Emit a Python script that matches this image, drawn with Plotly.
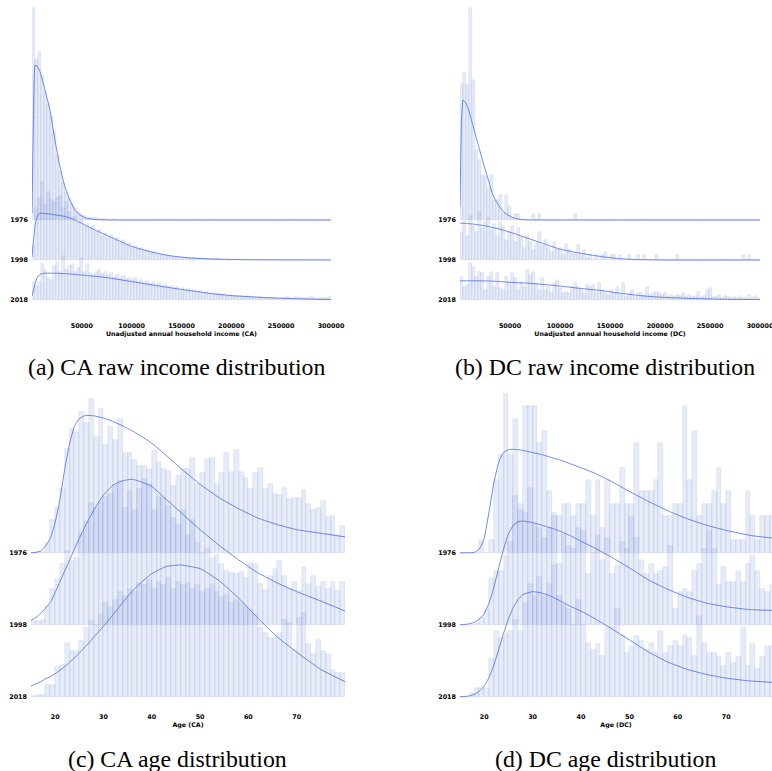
import plotly.graph_objects as go

W, H = 772, 771
YEARS = ["1976", "1998", "2018"]          # top row to bottom row
ROW_BASE = [2, 1, 0]                       # baseline of each row (row spacing = 1)

# ---------------- income histograms (bin width 3000, 0..300000) ----------------
# heights are in hundredths of one row spacing
INC_BIN = 3000
CA_INC_1976 = [530, 400, 420, 360, 320, 290, 260, 220, 160, 120,
               92, 70, 52, 40, 29, 21, 15, 11, 8, 6,
               5, 4, 3, 3, 2, 2, 1, 2, 1, 1,
               0, 1, 0, 1, 0, 0, 0, 0, 0, 0] + [0] * 60
CA_INC_1998 = [35, 130, 155, 195, 140, 170, 150, 145, 155, 160,
               130, 145, 120, 105, 110, 95, 100, 85, 90, 80,
               85, 70, 75, 60, 68, 55, 62, 50, 56, 42,
               50, 38, 42, 30, 35, 28, 30, 22, 25, 18,
               20, 15, 16, 12, 13, 10, 10, 8, 8, 6,
               6, 5, 5, 4, 4, 3, 4, 3, 3, 2,
               3, 2, 2, 2, 1, 2, 1, 1, 2, 1,
               1, 1, 0, 1, 1, 0, 1, 0, 1, 0,
               1, 0, 0, 1, 0, 1, 0, 0, 1, 0,
               0, 1, 0, 0, 1, 0, 0, 1, 0, 1]
CA_INC_2018 = [45, 35, 45, 90, 75, 55, 50, 85, 95, 70,
               110, 75, 85, 90, 70, 80, 105, 70, 90, 68,
               62, 70, 75, 65, 70, 62, 68, 58, 62, 55,
               60, 52, 56, 50, 55, 45, 50, 42, 48, 40,
               45, 38, 42, 35, 38, 32, 35, 30, 32, 26,
               30, 24, 27, 22, 25, 20, 22, 18, 20, 16,
               18, 14, 16, 12, 14, 11, 12, 10, 11, 9,
               10, 8, 9, 7, 8, 6, 7, 5, 6, 5,
               4, 5, 3, 6, 4, 7, 5, 4, 8, 4,
               6, 5, 4, 8, 5, 3, 6, 5, 4, 7]
DC_INC_1976 = [340, 367, 338, 530, 350, 176, 150, 113, 110, 80,
               113, 50, 50, 63, 18, 63, 34, 5, 15, 15,
               0, 0, 0, 0, 15, 0, 15, 0, 0, 0,
               0, 0, 0, 0, 0, 0, 0, 0, 15, 0] + [0] * 60
DC_INC_1998 = [70, 95, 60, 110, 85, 70, 120, 80, 95, 105,
               75, 90, 60, 95, 80, 50, 70, 85, 45, 80,
               55, 30, 60, 45, 25, 40, 70, 35, 50, 30,
               20, 45, 25, 30, 12, 40, 25, 15, 12, 38,
               12, 25, 5, 12, 0, 12, 0, 12, 20, 0,
               12, 12, 0, 12, 0, 0, 12, 0, 0, 12,
               0, 12, 0, 0, 0, 12, 0, 0, 0, 0,
               0, 0, 12, 0, 0, 0, 0, 0, 0, 0,
               0, 0, 0, 0, 0, 0, 0, 0, 0, 0,
               0, 0, 0, 0, 12, 0, 12, 0, 0, 0]
DC_INC_2018 = [58, 33, 38, 92, 83, 58, 71, 67, 25, 58,
               71, 33, 67, 29, 25, 58, 46, 67, 54, 25,
               46, 33, 75, 63, 71, 42, 25, 54, 25, 33,
               17, 42, 50, 29, 17, 21, 17, 33, 42, 33,
               25, 17, 38, 33, 38, 17, 42, 25, 17, 13,
               25, 17, 33, 13, 42, 8, 17, 25, 8, 17,
               17, 13, 33, 13, 17, 21, 17, 13, 17, 8,
               13, 8, 13, 10, 17, 8, 13, 8, 10, 21,
               7, 10, 25, 29, 7, 8, 13, 4, 10, 7,
               4, 8, 5, 10, 6, 4, 12, 6, 9, 5]

# fitted income curves, sampled on a common grid
INC_CURVE_X = [0, 1500, 3000, 5000, 8000, 13000, 18000, 23000, 28000, 33000,
               38000, 43000, 48000, 55000, 65000, 80000, 100000, 120000, 140000,
               160000, 180000, 200000, 230000, 260000, 300000]
CA_INC_CURVE_1976 = [0.17, 2.6, 3.87, 3.85, 3.71, 3.25, 2.75, 2.0, 1.33, 0.83,
                     0.5, 0.25, 0.125, 0.04, 0.01, 0, 0, 0, 0, 0, 0, 0, 0, 0, 0]
CA_INC_CURVE_1998 = [0.08, 0.5, 0.85, 1.08, 1.17, 1.16, 1.15, 1.13, 1.11, 1.09,
                     1.05, 1.0, 0.94, 0.85, 0.73, 0.56, 0.34, 0.2, 0.1, 0.05,
                     0.025, 0.012, 0.005, 0.002, 0]
CA_INC_CURVE_2018 = [0.1, 0.25, 0.4, 0.55, 0.64, 0.67, 0.67, 0.67, 0.665, 0.66,
                     0.65, 0.64, 0.63, 0.61, 0.59, 0.54, 0.46, 0.38, 0.3, 0.23,
                     0.16, 0.11, 0.065, 0.035, 0.01]
DC_INC_CURVE_1976 = [0.34, 2.5, 3.0, 2.95, 2.8, 2.36, 1.9, 1.45, 1.03, 0.62,
                     0.39, 0.22, 0.12, 0.04, 0.005, 0, 0, 0, 0, 0, 0, 0, 0, 0, 0]
DC_INC_CURVE_1998 = [0.92, 0.92, 0.92, 0.915, 0.91, 0.9, 0.88, 0.865, 0.84, 0.81,
                     0.785, 0.75, 0.71, 0.655, 0.565, 0.44, 0.27, 0.17, 0.09, 0.03,
                     0.01, 0, 0, 0, 0]
DC_INC_CURVE_2018 = [0.48, 0.48, 0.48, 0.48, 0.48, 0.48, 0.48, 0.478, 0.475, 0.47,
                     0.465, 0.455, 0.445, 0.435, 0.425, 0.395, 0.35, 0.29, 0.24, 0.17,
                     0.11, 0.07, 0.04, 0.02, 0.01]

# ---------------- age histograms (one bar per year of age, 15..79) ----------------
AGE_START, AGE_BIN = 15, 1
CA_AGE_1976 = [0, 1, 1, 14, 45, 62, 90, 144, 172, 167,
               196, 180, 213, 160, 199, 149, 174, 156, 185, 138,
               138, 129, 120, 120, 116, 141, 126, 116, 113, 93,
               107, 116, 116, 131, 96, 111, 130, 131, 96, 111,
               138, 112, 143, 112, 104, 88, 110, 117, 88, 95,
               82, 80, 90, 75, 76, 76, 87, 67, 60, 62,
               72, 50, 51, 25, 37]
CA_AGE_1998 = [5, 5, 7, 26, 50, 64, 84, 102, 89, 93,
               128, 142, 169, 162, 169, 178, 181, 194, 199, 162,
               185, 160, 188, 202, 195, 160, 177, 176, 165, 148,
               139, 160, 125, 145, 114, 100, 105, 93, 97, 84,
               75, 72, 70, 73, 65, 86, 85, 57, 48, 68,
               77, 88, 68, 50, 60, 47, 80, 57, 68, 53,
               60, 50, 60, 47, 60]
CA_AGE_2018 = [1, 3, 3, 17, 17, 41, 44, 75, 63, 63,
               78, 96, 105, 100, 115, 130, 125, 135, 145, 140,
               150, 145, 158, 155, 162, 150, 160, 155, 165, 150,
               160, 155, 158, 150, 155, 145, 150, 155, 145, 138,
               142, 130, 135, 130, 125, 120, 115, 95, 88, 82,
               82, 88, 106, 102, 65, 110, 116, 74, 59, 79,
               63, 59, 37, 33, 33]
DC_AGE_1976 = [0, 0, 0, 0, 17, 0, 17, 101, 135, 220,
               135, 186, 68, 203, 203, 203, 152, 169, 85, 51,
               51, 68, 68, 51, 68, 68, 101, 51, 101, 34,
               101, 68, 68, 118, 68, 68, 152, 85, 85, 85,
               101, 152, 51, 51, 68, 68, 203, 101, 169, 51,
               68, 68, 85, 118, 68, 85, 17, 17, 17, 85,
               51, 17, 51, 51, 51]
DC_AGE_1998 = [0, 0, 0, 3, 10, 21, 63, 75, 75, 95,
               115, 179, 160, 155, 190, 140, 135, 120, 135, 155,
               85, 125, 110, 105, 135, 130, 70, 100, 125, 90,
               120, 70, 82, 115, 105, 150, 120, 90, 70, 85,
               70, 75, 80, 110, 22, 45, 50, 45, 75, 85,
               105, 130, 105, 55, 80, 60, 60, 75, 60, 85,
               95, 75, 50, 45, 55]
DC_AGE_2018 = [0, 0, 5, 12, 12, 12, 52, 91, 82, 87,
               91, 107, 92, 130, 157, 140, 166, 140, 157, 183,
               140, 127, 122, 100, 135, 100, 75, 65, 73, 57,
               97, 97, 122, 86, 61, 69, 85, 78, 65, 75,
               61, 91, 61, 70, 78, 70, 86, 82, 57, 112,
               75, 61, 61, 56, 43, 61, 47, 56, 96, 43,
               73, 39, 56, 70, 70]

AGE_CURVE_X = [15, 16, 17, 18, 19, 20, 21, 22, 23, 24, 25, 26, 27, 28, 30,
               32, 34, 36, 38, 40, 43, 46, 50, 54, 58, 62, 66, 70, 75, 80]
CA_AGE_CURVE_1976 = [0.0, 0.005, 0.025, 0.09, 0.2, 0.42, 0.74, 1.17, 1.52, 1.76,
                     1.86, 1.9, 1.905, 1.9, 1.87, 1.82, 1.76, 1.69, 1.61, 1.52,
                     1.35, 1.17, 0.95, 0.76, 0.61, 0.48, 0.39, 0.32, 0.27, 0.22]
CA_AGE_CURVE_1998 = [0.06, 0.1, 0.16, 0.23, 0.31, 0.45, 0.6, 0.75, 0.9, 1.05,
                     1.2, 1.34, 1.47, 1.59, 1.8, 1.94, 2.0, 2.02, 1.98, 1.92,
                     1.74, 1.56, 1.32, 1.1, 0.9, 0.72, 0.58, 0.46, 0.33, 0.19]
CA_AGE_CURVE_2018 = [0.15, 0.18, 0.21, 0.25, 0.28, 0.32, 0.37, 0.42, 0.48, 0.54,
                     0.61, 0.68, 0.75, 0.83, 0.98, 1.14, 1.31, 1.47, 1.6, 1.71,
                     1.81, 1.83, 1.78, 1.61, 1.37, 1.09, 0.83, 0.62, 0.38, 0.21]
DC_AGE_CURVE_1976 = [0.0, 0.0, 0.0, 0.005, 0.05, 0.2, 0.57, 0.97, 1.26, 1.39,
                     1.43, 1.435, 1.43, 1.42, 1.39, 1.36, 1.32, 1.28, 1.23, 1.18,
                     1.1, 1.0, 0.85, 0.71, 0.58, 0.47, 0.38, 0.31, 0.24, 0.2]
DC_AGE_CURVE_1998 = [0.0, 0.005, 0.015, 0.035, 0.08, 0.15, 0.3, 0.52, 0.79, 1.05,
                     1.26, 1.38, 1.43, 1.44, 1.42, 1.38, 1.34, 1.29, 1.23, 1.16,
                     1.06, 0.95, 0.79, 0.62, 0.49, 0.38, 0.3, 0.25, 0.21, 0.2]
DC_AGE_CURVE_2018 = [0.0, 0.005, 0.015, 0.035, 0.08, 0.15, 0.27, 0.44, 0.66, 0.88,
                     1.08, 1.24, 1.35, 1.42, 1.46, 1.44, 1.39, 1.32, 1.25, 1.19,
                     1.08, 0.96, 0.79, 0.62, 0.48, 0.38, 0.31, 0.26, 0.22, 0.2]

INC_TICKS = [50000, 100000, 150000, 200000, 250000, 300000]
AGE_TICKS = [20, 30, 40, 50, 60, 70]

PANELS = [
    dict(hists=[CA_INC_1976, CA_INC_1998, CA_INC_2018],
         curves=[CA_INC_CURVE_1976, CA_INC_CURVE_1998, CA_INC_CURVE_2018],
         start=0, binw=INC_BIN, cx=INC_CURVE_X, ticks=INC_TICKS,
         xtitle="Unadjusted annual household income (CA)",
         caption="(a) CA raw income distribution"),
    dict(hists=[DC_INC_1976, DC_INC_1998, DC_INC_2018],
         curves=[DC_INC_CURVE_1976, DC_INC_CURVE_1998, DC_INC_CURVE_2018],
         start=0, binw=INC_BIN, cx=INC_CURVE_X, ticks=INC_TICKS,
         xtitle="Unadjusted annual household income (DC)",
         caption="(b) DC raw income distribution"),
    dict(hists=[CA_AGE_1976, CA_AGE_1998, CA_AGE_2018],
         curves=[CA_AGE_CURVE_1976, CA_AGE_CURVE_1998, CA_AGE_CURVE_2018],
         start=AGE_START, binw=AGE_BIN, cx=AGE_CURVE_X, ticks=AGE_TICKS,
         xtitle="Age (CA)", caption="(c) CA age distribution"),
    dict(hists=[DC_AGE_1976, DC_AGE_1998, DC_AGE_2018],
         curves=[DC_AGE_CURVE_1976, DC_AGE_CURVE_1998, DC_AGE_CURVE_2018],
         start=AGE_START, binw=AGE_BIN, cx=AGE_CURVE_X, ticks=AGE_TICKS,
         xtitle="Age (DC)", caption="(d) DC age distribution"),
]

# pixel layout of each panel: x-pixel span, x range, y-pixel span, y range, caption centre
GEOM = [
    dict(xpx=(32, 331), xr=(0, 300000), ypx=(0, 321), yr=(-0.525, 7.5), cap=(177, 367)),
    dict(xpx=(460, 760), xr=(0, 300000), ypx=(0, 321), yr=(-0.525, 7.5), cap=(605, 367)),
    dict(xpx=(31, 345), xr=(15, 80), ypx=(387, 712), yr=(-0.21, 4.3), cap=(177, 759)),
    dict(xpx=(460, 772), xr=(15, 79.46), ypx=(387, 712), yr=(-0.21, 4.3), cap=(606, 759)),
]

BAR_FILL = "rgba(125,155,225,0.19)"
BAR_EDGE = "rgba(115,140,200,0.28)"
CURVE = "rgba(70,105,225,0.78)"
TICK_FONT = dict(family="DejaVu Sans", size=6.4, color="black", weight="bold")
TITLE_FONT = dict(family="DejaVu Sans", size=6.3, color="black", weight="bold")

fig = go.Figure()
layout = {}
for k, (p, g) in enumerate(zip(PANELS, GEOM)):
    sfx = "" if k == 0 else str(k + 1)
    xa, ya = "x" + sfx, "y" + sfx
    for r in range(3):
        heights = [v / 100 for v in p["hists"][r]]
        centers = [p["start"] + p["binw"] * (i + 0.5) for i in range(len(heights))]
        fig.add_trace(go.Bar(
            x=centers, y=heights, base=ROW_BASE[r], width=p["binw"],
            marker=dict(color=BAR_FILL, line=dict(color=BAR_EDGE, width=0.5)),
            xaxis=xa, yaxis=ya, showlegend=False, hoverinfo="skip"))
        fig.add_trace(go.Scatter(
            x=p["cx"], y=[ROW_BASE[r] + v for v in p["curves"][r]], mode="lines",
            line=dict(color=CURVE, width=1, shape="spline", smoothing=0.35),
            xaxis=xa, yaxis=ya, showlegend=False, hoverinfo="skip"))

    x0, x1 = g["xpx"]
    ytop, ybot = g["ypx"]
    layout["xaxis" + sfx] = dict(
        domain=[x0 / W, x1 / W], range=list(g["xr"]), anchor=ya, automargin=False,
        showgrid=False, zeroline=False, showline=False, ticks="",
        tickvals=p["ticks"], ticktext=[str(t) for t in p["ticks"]],
        tickfont=TICK_FONT, ticklabelstandoff=0, ticklabeloverflow="allow",
        title=dict(text=p["xtitle"], font=TITLE_FONT, standoff=0))
    layout["yaxis" + sfx] = dict(
        domain=[1 - ybot / H, 1 - ytop / H], range=list(g["yr"]), anchor=xa, automargin=False,
        showgrid=False, zeroline=False, showline=False, ticks="",
        tickvals=ROW_BASE, ticktext=YEARS, tickfont=TICK_FONT, ticklabelstandoff=3)

annotations = [
    dict(text=p["caption"], x=g["cap"][0] / W, y=1 - g["cap"][1] / H,
         xref="paper", yref="paper", showarrow=False, xanchor="center", yanchor="middle",
         font=dict(family="Liberation Serif", size=23.8, color="black"))
    for p, g in zip(PANELS, GEOM)
]

fig.update_layout(
    width=W, height=H, autosize=False, margin=dict(l=0, r=0, t=0, b=0),
    paper_bgcolor="white", plot_bgcolor="white",
    barmode="overlay", bargap=0, annotations=annotations, **layout)

fig.write_html("out.html", config={"responsive": False})
